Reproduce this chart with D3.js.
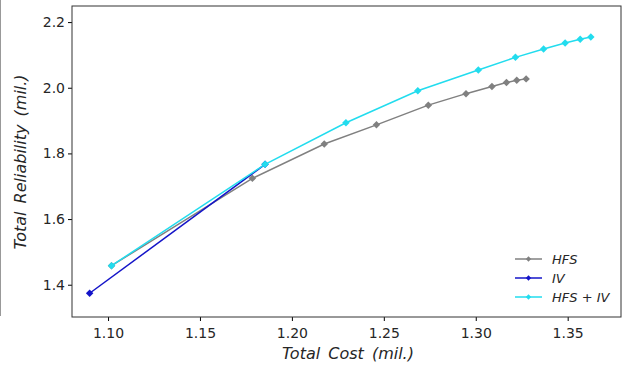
<!DOCTYPE html>
<html>
<head>
<meta charset="utf-8">
<script src="https://cdn.jsdelivr.net/npm/d3@7"></script>
<style>
  body { margin: 0; background: #fff; }
  svg text { font-family: "DejaVu Sans", sans-serif; }
</style>
</head>
<body>
<svg id="chart" width="624" height="366"></svg>
<script>
// data
const hfsCost = [1.1019, 1.1785, 1.2176, 1.2460, 1.2742, 1.2947, 1.3088, 1.3167, 1.3223, 1.3274];
const hfsRel  = [1.458, 1.724, 1.8285, 1.887, 1.947, 1.982, 2.004, 2.016, 2.0225, 2.027];
const ivCost = [1.0900, 1.1854];
const ivRel  = [1.374, 1.7667];
const bothCost = [1.1019, 1.1854, 1.2294, 1.2685, 1.3014, 1.3216, 1.3369, 1.3486, 1.3568, 1.3626];
const bothRel  = [1.458, 1.7667, 1.8934, 1.9909, 2.0539, 2.0926, 2.1179, 2.1362, 2.1474, 2.1544];
const xTicks = [1.10, 1.15, 1.20, 1.25, 1.30, 1.35];
const yTicks = [1.4, 1.6, 1.8, 2.0, 2.2];

const series = [
  { name: 'HFS', color: '#808080', xs: hfsCost, ys: hfsRel },
  { name: 'IV', color: '#1414c8', xs: ivCost, ys: ivRel },
  { name: 'HFS + IV', color: '#22dcee', xs: bothCost, ys: bothRel }
];

const svg = d3.select('#chart');
const plotL = 72, plotT = 6, plotR = 621, plotB = 317;

const x = d3.scaleLinear().domain([1.0804, 1.379]).range([plotL, plotR]);
const y = d3.scaleLinear().domain([1.3017, 2.249]).range([plotB, plotT]);

// stray frame line on the far left
svg.append('line')
  .attr('x1', 0.5).attr('x2', 0.5).attr('y1', 0).attr('y2', 316)
  .attr('stroke', '#999').attr('stroke-width', 1);

// axes
svg.append('g')
  .attr('transform', 'translate(0,' + plotB + ')')
  .call(d3.axisBottom(x).tickValues(xTicks).tickFormat(d3.format('.2f')).tickSize(4).tickSizeOuter(0))
  .call(g => g.select('.domain').remove())
  .call(g => g.selectAll('text').attr('font-size', 14).attr('fill', '#262626').attr('dy', '1.0em'));

svg.append('g')
  .attr('transform', 'translate(' + plotL + ',0)')
  .call(d3.axisLeft(y).tickValues(yTicks).tickFormat(d3.format('.1f')).tickSize(4).tickSizeOuter(0))
  .call(g => g.select('.domain').remove())
  .call(g => g.selectAll('text').attr('font-size', 14).attr('fill', '#262626'));

svg.append('rect')
  .attr('x', plotL).attr('y', plotT)
  .attr('width', plotR - plotL).attr('height', plotB - plotT)
  .attr('fill', 'none').attr('stroke', '#333').attr('stroke-width', 1);

// lines and diamond markers (square turned 45 degrees)
const line = d3.line().x(d => x(d[0])).y(d => y(d[1]));
const diamond = d3.symbol().type(d3.symbolSquare).size(28);

series.forEach(s => {
  const pts = s.xs.map((v, i) => [v, s.ys[i]]);
  svg.append('path')
    .datum(pts)
    .attr('d', line)
    .attr('fill', 'none')
    .attr('stroke', s.color)
    .attr('stroke-width', 1.5);
  svg.append('g').selectAll('path')
    .data(pts)
    .enter()
    .append('path')
    .attr('d', diamond)
    .attr('transform', d => 'translate(' + x(d[0]) + ',' + y(d[1]) + ') rotate(45)')
    .attr('fill', s.color);
});

// legend
const legend = svg.append('g').attr('transform', 'translate(515,259)');
series.forEach((s, i) => {
  const g = legend.append('g').attr('transform', 'translate(0,' + (i * 19) + ')');
  g.append('line').attr('x1', 0).attr('x2', 27).attr('y1', 0).attr('y2', 0)
    .attr('stroke', s.color).attr('stroke-width', 1.5);
  g.append('path').attr('d', d3.symbol().type(d3.symbolSquare).size(14))
    .attr('transform', 'translate(13.5,0) rotate(45)').attr('fill', s.color);
  g.append('text').attr('x', 37).attr('y', 4.5)
    .attr('font-size', 13).attr('font-style', 'italic').attr('fill', '#262626')
    .text(s.name);
});

// axis titles
svg.append('text')
  .attr('x', 348).attr('y', 359)
  .attr('text-anchor', 'middle')
  .attr('font-size', 16).attr('font-style', 'italic').attr('fill', '#262626')
  .attr('word-spacing', 3)
  .text('Total Cost (mil.)');

svg.append('text')
  .attr('transform', 'translate(26,162) rotate(-90)')
  .attr('text-anchor', 'middle')
  .attr('font-size', 16).attr('font-style', 'italic').attr('fill', '#262626')
  .attr('word-spacing', 3)
  .text('Total Reliability (mil.)');
</script>
</body>
</html>
